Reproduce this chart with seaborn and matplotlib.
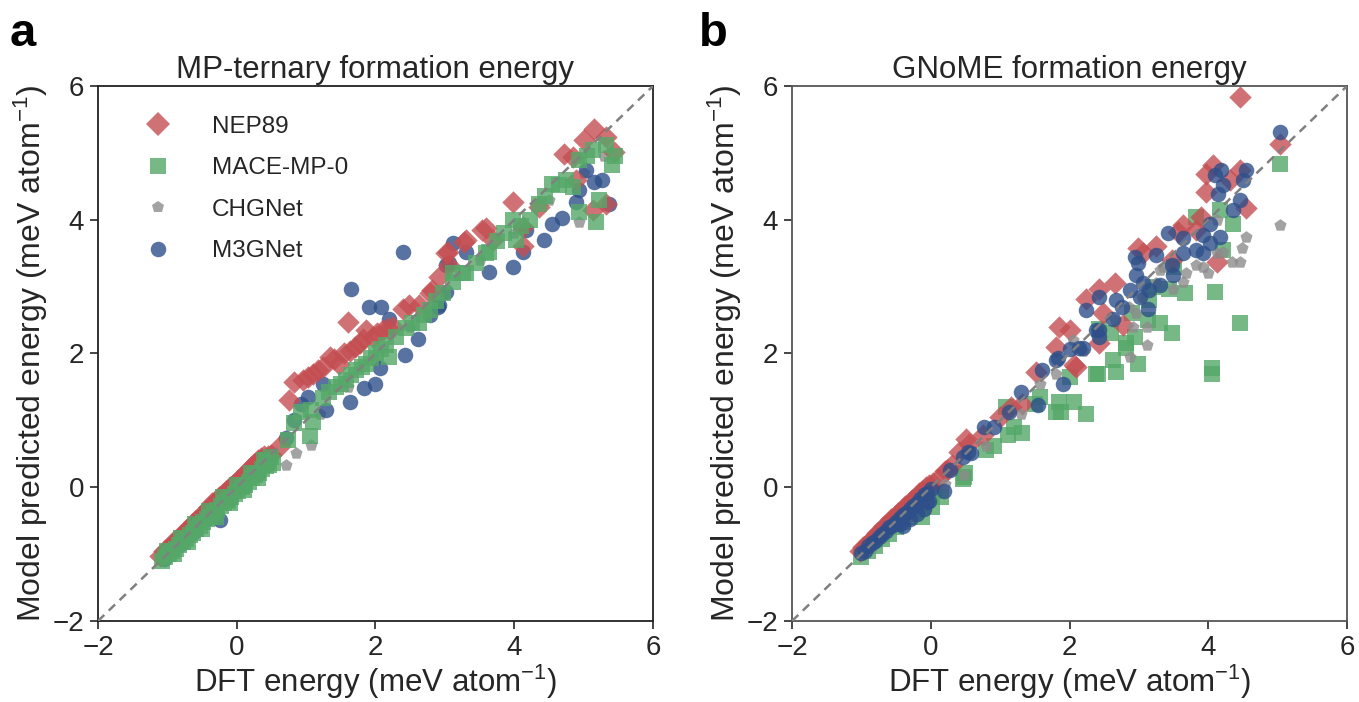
import matplotlib
matplotlib.use("Agg")
import matplotlib.pyplot as plt
import seaborn as sns
import pandas as pd
from matplotlib.lines import Line2D

# ---------------- data: panel a (MP-ternary) ----------------
a_nep_x = [-1.10,-1.05,-1.00,-0.95,-0.90,-0.85,-0.80,-0.75,-0.70,-0.65,-0.60,-0.55,-0.50,-0.45,-0.40,-0.35,-0.30,
           -0.25,-0.20,-0.15,-0.10,-0.05,0.00,0.05,0.10,0.15,0.20,0.25,0.30,0.35,0.40,0.45,0.50,0.62,
           0.76,0.83,0.95,1.02,1.10,1.17,1.24,1.34,1.40,1.48,1.55,1.60,1.63,1.70,1.77,1.82,1.87,1.96,2.02,2.11,2.18,2.25,
           2.39,2.49,2.63,2.78,2.82,2.92,3.02,3.04,3.06,3.28,3.31,3.54,3.59,3.69,3.98,4.12,4.12,4.36,4.72,4.84,4.89,
           5.01,5.15,5.32,5.44,5.13,5.32]
a_nep_y = [-1.03,-0.96,-0.92,-0.86,-0.80,-0.78,-0.71,-0.65,-0.62,-0.55,-0.50,-0.47,-0.40,-0.36,-0.30,-0.24,-0.22,
           -0.15,-0.10,-0.05,0.00,0.04,0.10,0.14,0.19,0.25,0.30,0.35,0.40,0.44,0.46,0.47,0.48,0.62,
           1.30,1.58,1.60,1.65,1.70,1.75,1.80,1.95,1.92,1.85,2.00,2.47,2.03,2.10,2.15,2.22,2.35,2.25,2.30,2.35,2.38,2.40,
           2.67,2.72,2.72,2.90,2.95,3.15,3.50,3.52,3.32,3.67,3.70,3.84,3.87,3.69,4.27,3.89,3.60,4.19,4.99,4.94,4.59,
           5.19,5.36,5.24,5.02,4.14,4.24]

a_mace_x = [-1.08,-1.03,-0.98,-0.93,-0.88,-0.83,-0.78,-0.73,-0.68,-0.63,-0.58,-0.53,-0.48,-0.43,-0.38,-0.33,-0.28,
            -0.23,-0.18,-0.13,-0.08,-0.03,0.02,0.07,0.12,0.17,0.22,0.27,0.32,0.37,0.42,0.47,0.52,
            -1.00,-0.80,-0.60,-0.40,-0.20,0.00,0.20,0.40,0.50,-0.90,-0.70,-0.50,-0.30,-0.10,0.10,0.30,0.43,
            0.74,0.83,0.93,1.07,1.10,1.05,1.24,1.33,1.43,1.50,1.58,1.65,1.72,1.80,1.87,1.94,2.01,2.08,2.15,2.20,2.30,
            2.44,2.52,2.63,2.70,2.78,2.87,2.97,3.11,3.11,3.26,3.31,3.45,3.59,3.64,3.75,3.85,3.98,4.02,4.10,4.22,4.36,
            4.45,4.55,4.65,4.74,4.84,4.94,5.18,5.22,4.94,5.05,5.13,5.32,5.41,5.45]
a_mace_y = [-1.10,-1.04,-1.00,-0.95,-0.92,-0.86,-0.82,-0.78,-0.72,-0.68,-0.62,-0.58,-0.52,-0.48,-0.44,-0.38,-0.34,
            -0.28,-0.24,-0.20,-0.14,-0.10,-0.05,0.00,0.04,0.08,0.14,0.18,0.22,0.28,0.32,0.34,0.36,
            -0.95,-0.76,-0.55,-0.36,-0.15,0.03,0.22,0.40,0.45,-1.00,-0.82,-0.62,-0.44,-0.24,-0.04,0.14,0.41,
            0.71,0.96,1.13,1.15,0.98,0.76,1.33,1.42,1.50,1.55,1.60,1.68,1.75,1.80,1.85,1.93,2.00,2.06,2.13,1.95,2.25,
            2.38,2.45,2.45,2.58,2.65,2.78,2.90,3.07,3.20,3.20,3.20,3.35,3.50,3.52,3.68,3.80,3.99,3.69,3.90,3.99,4.24,
            4.35,4.54,4.52,4.59,4.49,4.12,3.97,4.29,4.89,4.95,5.04,5.12,4.82,4.95]

a_chg_x = [-1.00,-0.70,-0.40,-0.25,0.00,0.30,0.71,0.86,1.07,1.20,1.60,2.00,2.50,3.00,3.50,4.00,4.50,4.94,5.00,5.30]
a_chg_y = [-1.05,-0.78,-0.48,-0.35,-0.08,0.20,0.33,0.51,0.63,1.10,1.50,1.90,2.40,2.90,3.40,3.80,4.30,3.97,4.70,4.95]

a_m3g_x = [-1.05,-0.80,-0.60,-0.40,-0.24,-0.10,0.10,0.30,0.45,
           0.71,0.83,0.93,1.03,1.24,1.29,1.63,1.84,1.99,2.06,2.43,2.61,2.19,1.91,2.08,1.65,2.39,2.78,2.90,2.92,3.02,
           3.02,3.06,3.11,3.31,3.64,3.98,4.12,4.17,4.43,4.55,4.69,4.89,4.94,5.03,5.15,5.27,5.37]
a_m3g_y = [-1.08,-0.85,-0.66,-0.46,-0.49,-0.18,0.02,0.22,0.35,
           0.73,1.00,1.25,1.35,1.55,1.15,1.28,1.48,1.55,1.78,1.97,2.21,2.52,2.70,2.70,2.97,3.52,2.57,2.70,2.72,2.92,
           3.32,3.35,3.65,3.52,3.22,3.30,3.52,3.84,3.69,3.94,4.02,4.27,4.44,4.74,4.57,4.59,4.24]

# ---------------- data: panel b (GNoME) ----------------
b_nep_x = [-1.02,-0.97,-0.92,-0.87,-0.82,-0.77,-0.72,-0.67,-0.62,-0.57,-0.52,-0.47,-0.42,-0.37,-0.32,-0.27,-0.22,
           -0.17,-0.12,-0.07,-0.02,0.03,0.10,0.20,0.24,0.30,0.41,0.51,0.55,0.75,1.00,1.15,1.32,1.52,1.80,1.85,2.00,
           2.07,2.10,2.24,2.43,2.43,2.48,2.65,2.77,2.99,3.06,3.25,3.47,3.56,3.64,3.83,3.90,4.12,3.97,4.07,3.97,4.31,
           4.46,4.55,5.03,4.46]
b_nep_y = [-0.96,-0.90,-0.85,-0.80,-0.75,-0.69,-0.64,-0.58,-0.54,-0.48,-0.43,-0.38,-0.34,-0.28,-0.24,-0.19,-0.14,
           -0.09,-0.05,0.00,0.04,0.07,0.12,0.24,0.26,0.34,0.53,0.72,0.65,0.78,1.05,1.20,1.25,1.73,2.10,2.40,2.35,
           1.83,1.80,2.82,2.97,2.15,2.60,3.05,2.42,3.57,3.50,3.60,3.40,3.82,3.92,3.84,4.04,3.37,4.69,4.82,4.42,4.59,
           4.74,4.17,5.14,5.84]

b_mace_x = [-1.00,-0.90,-0.80,-0.70,-0.60,-0.50,-0.40,-0.30,-0.20,-0.10,0.00,0.05,0.02,-0.12,0.15,0.48,0.50,
            0.46,0.79,0.91,1.08,1.11,1.20,1.32,1.50,1.57,1.81,1.85,1.88,2.00,2.07,2.24,2.38,2.41,2.43,2.60,2.62,2.67,
            2.82,2.82,2.90,2.94,2.99,3.13,3.15,3.20,3.30,3.44,3.47,3.50,3.66,3.83,4.05,4.05,4.09,4.17,4.21,4.36,4.46,5.03]
b_mace_y = [-1.05,-0.96,-0.88,-0.78,-0.70,-0.60,-0.52,-0.44,-0.34,-0.24,-0.14,-0.05,-0.30,-0.45,-0.15,0.16,0.22,
            0.12,0.56,0.61,1.20,0.78,0.90,0.81,1.25,1.35,1.13,1.28,1.13,1.65,1.28,1.10,1.70,1.70,2.37,2.30,1.90,1.73,
            2.15,2.08,2.60,2.25,1.85,2.50,2.80,3.00,2.45,2.97,2.30,3.30,2.90,4.04,1.78,1.70,2.92,4.14,3.55,3.94,2.45,4.84]

b_chg_x = [-1.00,-0.85,-0.70,-0.55,-0.40,-0.25,-0.10,0.00,0.20,0.48,0.79,1.30,1.57,1.81,2.05,2.19,2.45,2.65,2.85,
           2.87,3.05,3.11,2.91,3.11,2.96,3.25,3.30,3.35,3.49,3.64,3.68,3.83,3.92,4.00,4.12,4.21,4.34,4.46,4.49,4.55,
           5.03,4.12]
b_chg_y = [-1.02,-0.90,-0.76,-0.60,-0.46,-0.32,-0.18,-0.08,0.05,0.18,0.61,1.10,1.55,1.70,2.20,2.03,2.25,2.50,2.70,
           1.95,2.85,2.13,2.40,2.40,2.60,3.05,3.25,3.30,2.97,3.07,3.20,3.32,3.30,3.20,3.50,3.52,3.37,3.37,3.57,3.74,
           3.92,3.99]

b_m3g_x = [-1.00,-0.95,-0.90,-0.85,-0.80,-0.75,-0.70,-0.65,-0.60,-0.55,-0.50,-0.45,-0.40,-0.35,-0.30,-0.25,-0.20,
           -0.15,-0.10,-0.05,0.00,-0.02,-0.20,-0.40,-0.10,-0.30,-0.45,-0.05,0.19,0.27,0.46,0.58,0.53,0.77,0.91,1.13,
           1.30,1.54,1.61,1.81,1.83,1.90,2.00,2.14,2.19,2.24,2.38,2.43,2.43,2.43,2.62,2.67,2.75,2.87,2.94,2.96,2.99,
           3.01,3.06,3.13,3.15,3.25,3.30,3.42,3.47,3.49,3.64,3.64,3.83,3.92,3.92,4.02,4.02,4.09,4.14,4.17,4.19,4.21,
           4.36,4.46,4.50,4.55,5.03]
b_m3g_y = [-0.98,-0.95,-0.88,-0.84,-0.80,-0.74,-0.70,-0.66,-0.60,-0.56,-0.52,-0.46,-0.42,-0.38,-0.32,-0.28,-0.24,
           -0.18,-0.12,-0.08,-0.03,-0.20,-0.40,-0.58,-0.32,-0.48,-0.55,-0.22,-0.05,0.26,0.45,0.51,0.53,0.90,0.90,1.13,
           1.42,1.23,1.75,1.90,1.93,1.55,2.06,2.08,2.08,2.65,2.35,2.25,2.35,2.85,2.52,2.80,2.70,2.95,3.45,3.17,3.35,
           2.85,3.05,2.67,2.95,3.47,3.02,3.80,3.32,3.17,3.72,3.50,3.55,3.77,3.50,3.94,3.65,4.67,4.39,3.74,4.74,4.52,
           4.14,4.29,4.59,4.74,5.31]

labels = ["NEP89", "MACE-MP-0", "CHGNet", "M3GNet"]
colors = {"NEP89": "#C44E52", "MACE-MP-0": "#55A868", "CHGNet": "#8C8C8C", "M3GNet": "#2E4F8A"}
markers = {"NEP89": "D", "MACE-MP-0": "s", "CHGNet": "p", "M3GNet": "o"}
sizes = {"NEP89": 130, "MACE-MP-0": 120, "CHGNet": 85, "M3GNet": 125}

panel_a = {"NEP89": (a_nep_x, a_nep_y), "MACE-MP-0": (a_mace_x, a_mace_y),
           "CHGNet": (a_chg_x, a_chg_y), "M3GNet": (a_m3g_x, a_m3g_y)}
panel_b = {"NEP89": (b_nep_x, b_nep_y), "MACE-MP-0": (b_mace_x, b_mace_y),
           "CHGNet": (b_chg_x, b_chg_y), "M3GNet": (b_m3g_x, b_m3g_y)}
order_a = ["CHGNet", "M3GNet", "NEP89", "MACE-MP-0"]
order_b = ["MACE-MP-0", "NEP89", "CHGNet", "M3GNet"]

sns.set_style("ticks")
plt.rcParams['font.family'] = ['Liberation Sans', 'DejaVu Sans']
plt.rcParams['mathtext.fontset'] = 'custom'
plt.rcParams['mathtext.rm'] = 'Liberation Sans'
plt.rcParams['mathtext.it'] = 'Liberation Sans:italic'

TXT = "#262626"
fig = plt.figure(figsize=(13.59, 7.02), dpi=100)
ax_a = fig.add_axes([0.0721, 0.1154, 0.4084, 0.7621])
ax_b = fig.add_axes([0.5828, 0.1154, 0.4084, 0.7621])

def draw(ax, data, order, title, spine_color):
    for name in order:
        xs, ys = data[name]
        df = pd.DataFrame({"x": xs, "y": ys})
        sns.scatterplot(data=df, x="x", y="y", ax=ax, color=colors[name], marker=markers[name],
                        s=sizes[name], alpha=0.8, linewidth=0, zorder=2, legend=False)
    ax.plot([-2, 6], [-2, 6], ls=(0, (3.5, 2.5)), color="#808080", lw=1.8, zorder=5)
    ax.set_xlim(-2, 6)
    ax.set_ylim(-2, 6)
    ax.set_xticks([-2, 0, 2, 4, 6])
    ax.set_yticks([-2, 0, 2, 4, 6])
    ax.tick_params(labelsize=20, length=6, width=1.2, colors=TXT, pad=4)
    for sp in ax.spines.values():
        sp.set_color(spine_color)
        sp.set_linewidth(1.3)
    ax.set_xlabel(r"DFT energy (meV atom$^{-1}$)", fontsize=22.5, color=TXT, labelpad=1)
    ax.set_ylabel(r"Model predicted energy (meV atom$^{-1}$)", fontsize=23, color=TXT, labelpad=2)
    ax.set_title(title, fontsize=22.5, color=TXT, pad=6)

draw(ax_a, panel_a, order_a, "MP-ternary formation energy", "#222222")
draw(ax_b, panel_b, order_b, "GNoME formation energy", "#555555")

handles = [Line2D([], [], ls="none", marker=markers[n], color=colors[n], alpha=0.8,
                  markersize=(sizes[n] ** 0.5) * (1.05 if n == "NEP89" else 1.0), markeredgewidth=0)
           for n in labels]
ax_a.legend(handles, labels, loc="upper left", frameon=False, fontsize=17.5,
            handletextpad=1.2, labelspacing=0.8, borderaxespad=0.5, bbox_to_anchor=(0.025, 0.985))

fig.text(0.007, 0.935, "a", fontsize=34, fontweight="bold", color="black")
fig.text(0.514, 0.935, "b", fontsize=34, fontweight="bold", color="black")

fig.savefig("out.png", dpi=100)
